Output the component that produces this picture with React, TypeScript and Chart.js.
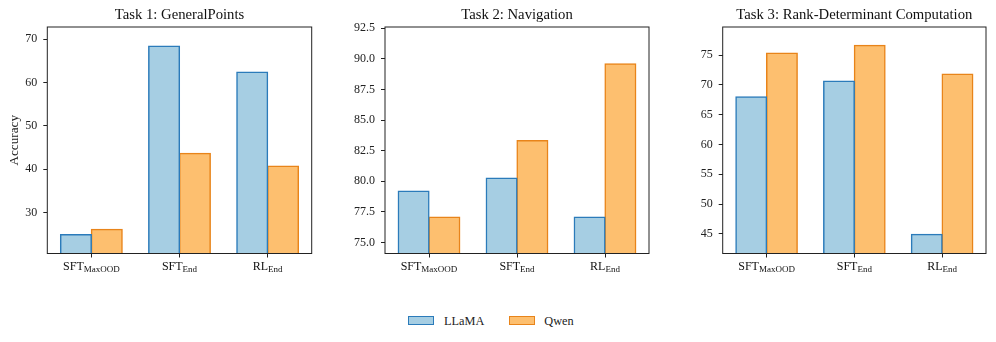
import React, { useEffect, useRef } from "react";
import { Chart, registerables } from "chart.js";

Chart.register(...registerables);

// ---- data ----
const categoryMain = ["SFT", "SFT", "RL"];
const categorySub = ["MaxOOD", "End", "End"];
const seriesNames = ["LLaMA", "Qwen"];

const titles = ["Task 1: GeneralPoints", "Task 2: Navigation", "Task 3: Rank-Determinant Computation"];

const task1Llama = [24.85, 68.4, 62.4];
const task1Qwen = [26.1, 43.6, 40.7];
const task2Llama = [79.2, 80.25, 77.07];
const task2Qwen = [77.07, 83.33, 89.6];
const task3Llama = [68.0, 70.64, 44.9];
const task3Qwen = [75.34, 76.63, 71.8];

const yMins = [20.5, 74.1, 41.7];
const yMaxs = [72.8, 92.6, 79.7];
const yStepSizes = [10, 2.5, 5];
const yDecimals = [0, 1, 0];
const yAxisLabel = "Accuracy";

// ---- styles ----
const FONT = '"Liberation Serif", "DejaVu Serif", "Times New Roman", serif';
const INK = "#222222";
const LLAMA_FILL = "#a6cee3";
const LLAMA_EDGE = "#2b7bba";
const QWEN_FILL = "#fdbf6f";
const QWEN_EDGE = "#e8841a";

const CANVAS_H = 290;
const CHART_TOP = 27;
const CHART_BOTTOM = 253.5;

const panels = [
  { left: 0, width: 330, chartLeft: 47.3, chartRight: 311.7 },
  { left: 330, width: 330, chartLeft: 55, chartRight: 319 },
  { left: 660, width: 336, chartLeft: 62.7, chartRight: 326 },
];

const seriesData = [
  [task1Llama, task1Qwen],
  [task2Llama, task2Qwen],
  [task3Llama, task3Qwen],
];

function makeDecoPlugin(title: string) {
  return {
    id: "panelDeco",
    afterDraw(chart: any) {
      const { ctx, chartArea } = chart;
      const { left, right, top, bottom } = chartArea;
      const xs = chart.scales.x;
      ctx.save();
      ctx.strokeStyle = INK;
      ctx.lineWidth = 1;
      ctx.strokeRect(left, top, right - left, bottom - top);

      ctx.fillStyle = "#111";
      ctx.font = `14.7px ${FONT}`;
      ctx.textAlign = "center";
      ctx.textBaseline = "alphabetic";
      ctx.fillText(title, (left + right) / 2, 19.3);

      ctx.textAlign = "left";
      categoryMain.forEach((main, i) => {
        const sub = categorySub[i];
        const x = xs.getPixelForValue(i);
        ctx.font = `12px ${FONT}`;
        const w1 = ctx.measureText(main).width;
        ctx.font = `9px ${FONT}`;
        const w2 = ctx.measureText(sub).width;
        const start = x - (w1 + w2) / 2;
        ctx.font = `12px ${FONT}`;
        ctx.fillText(main, start, 270);
        ctx.font = `9px ${FONT}`;
        ctx.fillText(sub, start + w1, 271.7);
      });
      ctx.restore();
    },
  };
}

export default function App() {
  const refs = [useRef<HTMLCanvasElement>(null), useRef<HTMLCanvasElement>(null), useRef<HTMLCanvasElement>(null)];

  useEffect(() => {
    const charts: Chart[] = [];
    panels.forEach((p, idx) => {
      const canvas = refs[idx].current;
      if (!canvas) return;
      const [llama, qwen] = seriesData[idx];
      const dec = yDecimals[idx];
      const chart = new Chart(canvas, {
        type: "bar",
        data: {
          labels: categoryMain.map((m, i) => m + categorySub[i]),
          datasets: [
            {
              label: seriesNames[0],
              data: llama,
              backgroundColor: LLAMA_FILL,
              borderColor: LLAMA_EDGE,
              borderWidth: 1.5,
              inflateAmount: 0.6,
              categoryPercentage: 0.7,
              barPercentage: 1.0,
            },
            {
              label: seriesNames[1],
              data: qwen,
              backgroundColor: QWEN_FILL,
              borderColor: QWEN_EDGE,
              borderWidth: 1.5,
              inflateAmount: 0.6,
              categoryPercentage: 0.7,
              barPercentage: 1.0,
            },
          ],
        },
        options: {
          responsive: false,
          animation: false,
          layout: {
            padding: { left: 0, top: CHART_TOP, right: p.width - p.chartRight, bottom: 0 },
          },
          plugins: {
            legend: { display: false },
            title: { display: false },
            tooltip: { enabled: false },
          },
          scales: {
            x: {
              grid: {
                display: true,
                drawOnChartArea: false,
                drawTicks: true,
                tickLength: 4,
                offset: false,
                color: INK,
                tickColor: INK,
                lineWidth: 1,
              },
              border: { display: false },
              ticks: { display: false },
              afterFit: (s: any) => {
                s.height = CANVAS_H - CHART_BOTTOM;
              },
            },
            y: {
              min: yMins[idx],
              max: yMaxs[idx],
              grid: {
                display: true,
                drawOnChartArea: false,
                drawTicks: true,
                tickLength: 4,
                color: INK,
                tickColor: INK,
              },
              border: { display: false },
              ticks: {
                stepSize: yStepSizes[idx],
                includeBounds: false,
                padding: 6,
                color: INK,
                font: { family: FONT, size: 12 },
                callback: (v: any) => Number(v).toFixed(dec),
              },
              title: {
                display: idx === 0,
                text: yAxisLabel,
                color: INK,
                font: { family: FONT, size: 13.2 },
                padding: { top: 6.4, bottom: 0 },
              },
              afterFit: (s: any) => {
                s.width = p.chartLeft;
              },
            },
          },
        },
        plugins: [makeDecoPlugin(titles[idx])],
      } as any);
      charts.push(chart);
    });
    return () => {
      charts.forEach((c) => c.destroy());
    };
  }, []);

  const legendText: React.CSSProperties = {
    position: "absolute",
    top: 313,
    fontFamily: FONT,
    fontSize: 12.3,
    lineHeight: "16px",
    color: INK,
    whiteSpace: "nowrap",
  };

  return (
    <div style={{ position: "fixed", left: 0, top: 0, width: 996, height: 342, background: "#fff" }}>
      {panels.map((p, i) => (
        <canvas
          key={i}
          ref={refs[i]}
          width={p.width}
          height={CANVAS_H}
          style={{ position: "absolute", left: p.left, top: 0, width: p.width, height: CANVAS_H }}
        />
      ))}
      <div
        style={{
          position: "absolute",
          left: 408.3,
          top: 316,
          width: 26,
          height: 9,
          boxSizing: "border-box",
          background: LLAMA_FILL,
          border: `1.5px solid ${LLAMA_EDGE}`,
        }}
      />
      <div style={{ ...legendText, left: 444 }}>{seriesNames[0]}</div>
      <div
        style={{
          position: "absolute",
          left: 509,
          top: 316,
          width: 26,
          height: 9,
          boxSizing: "border-box",
          background: QWEN_FILL,
          border: `1.5px solid ${QWEN_EDGE}`,
        }}
      />
      <div style={{ ...legendText, left: 544.3 }}>{seriesNames[1]}</div>
    </div>
  );
}
